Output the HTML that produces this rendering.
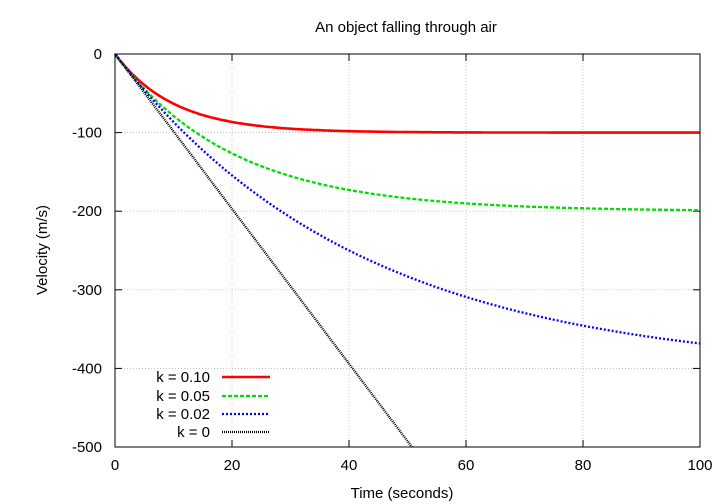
<!DOCTYPE html>
<html><head><meta charset="utf-8"><style>
html,body{margin:0;padding:0;background:#fff}
svg{display:block;font-family:"Liberation Sans",sans-serif;font-size:15px}
</style></head><body>
<svg id="s" width="720" height="504" xmlns="http://www.w3.org/2000/svg">
<text x="406" y="32" text-anchor="middle">An object falling through air</text>
<g id="grid" stroke="#b0b0b0" stroke-width="0.7" stroke-dasharray="1,2"></g>
<g id="ticks" stroke="#000" stroke-width="1"></g>
<g id="labels"></g>
<text x="402" y="498" text-anchor="middle">Time (seconds)</text>
<text transform="translate(47,250) rotate(-90)" text-anchor="middle">Velocity (m/s)</text>
<g id="curves" fill="none" stroke-width="2.3"></g>
<rect x="115" y="54" width="585" height="393" fill="none" stroke="#000" stroke-width="1"/>
<g text-anchor="end">
<text x="210" y="382">k = 0.10</text>
<text x="210" y="401">k = 0.05</text>
<text x="210" y="419">k = 0.02</text>
<text x="210" y="437">k = 0</text>
</g>
<line x1="222" y1="377" x2="270" y2="377" stroke="#ff0000" stroke-width="2.6"/>
<line x1="222" y1="396" x2="270" y2="396" stroke="#00dd00" stroke-width="2.3" stroke-dasharray="4,2"/>
<line x1="222" y1="414" x2="270" y2="414" stroke="#0000ff" stroke-width="2.3" stroke-dasharray="2,2"/>
<line x1="222" y1="432" x2="270" y2="432" stroke="#000" stroke-width="2.3" stroke-dasharray="1,1"/>
</svg>
<script>
var X=function(t){return 115+t*5.85},Y=function(v){return 54-v*0.786};
var ns="http://www.w3.org/2000/svg";
function el(p,n,a,txt){var e=document.createElementNS(ns,n);for(var k in a)e.setAttribute(k,a[k]);if(txt!==undefined)e.textContent=txt;document.getElementById(p).appendChild(e);}
for(var t=0;t<=100;t+=20){var x=X(t);
 if(t>0&&t<100)el("grid","line",{x1:x,y1:54,x2:x,y2:447});
 el("ticks","line",{x1:x,y1:447,x2:x,y2:440});el("ticks","line",{x1:x,y1:54,x2:x,y2:61});
 el("labels","text",{x:x,y:470,"text-anchor":"middle"},String(t));}
for(var v=0;v>=-500;v-=100){var y=Y(v);
 if(v<0&&v>-500)el("grid","line",{x1:115,y1:y,x2:700,y2:y});
 el("ticks","line",{x1:115,y1:y,x2:122,y2:y});el("ticks","line",{x1:700,y1:y,x2:693,y2:y});
 el("labels","text",{x:102,y:y+5,"text-anchor":"end"},String(v));}
var cs=[[100,0.1,"#ff0000",""],[200,0.05,"#00dd00","4,2"],[405,0.024,"#0000ff","2,2"],[0,0,"#000","1,1"]];
cs.forEach(function(c){var A=c[0],b=c[1],pts=[];
 for(var t=0;t<=100;t+=0.5){var v=b?-A*(1-Math.exp(-b*t)):-9.85*t;if(v<-500){pts.push(X(500/9.85).toFixed(1)+","+Y(-500));break;}pts.push(X(t).toFixed(1)+","+Y(v).toFixed(1));}
 var a={points:pts.join(" "),stroke:c[2]};if(c[3])a["stroke-dasharray"]=c[3];if(b==0.1)a["stroke-width"]=2.6;
 el("curves","polyline",a);});
</script>
</body></html>
